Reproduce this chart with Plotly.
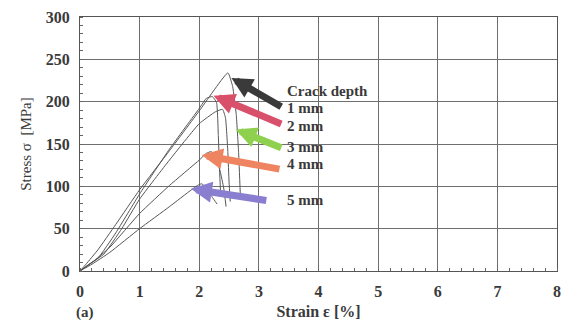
import plotly.graph_objects as go

# Stress-strain curves for different crack depths
c1_x = [0, 0.1, 0.3, 0.6, 1.0, 1.5, 2.0, 2.48, 2.56, 2.62, 2.66, 2.69]
c1_y = [0, 8, 25, 55, 96, 142, 189, 234, 218, 185, 140, 88]
c2_x = [0, 0.15, 0.3, 0.6, 1.0, 1.5, 2.0, 2.12, 2.22, 2.29, 2.32, 2.34, 2.36]
c2_y = [0, 8, 15, 45, 91, 144, 192, 204, 206, 199, 160, 120, 88]
c3_x = [0, 0.2, 0.4, 0.7, 1.0, 1.5, 2.0, 2.27, 2.39, 2.44, 2.48, 2.5, 2.52]
c3_y = [0, 10, 20, 50, 85, 131, 174, 188, 191, 181, 140, 105, 82]
c4_x = [0, 0.2, 0.5, 1.0, 1.5, 2.0, 2.12, 2.2, 2.27, 2.35, 2.41, 2.45]
c4_y = [0, 10, 28, 68, 101, 131, 139, 141, 136, 118, 98, 76]
c5_x = [0, 0.2, 0.5, 1.0, 1.5, 1.87, 1.97, 2.04, 2.12, 2.22, 2.3]
c5_y = [0, 8, 22, 50, 76, 96, 101, 103, 98, 87, 79]

curves = [(c1_x, c1_y), (c2_x, c2_y), (c3_x, c3_y), (c4_x, c4_y), (c5_x, c5_y)]

labels = ["Crack depth", "1 mm", "2 mm", "3 mm", "4 mm", "5 mm"]
label_x = [3.44, 3.44, 3.44, 3.44, 3.44, 3.44]
label_y = [213, 192, 171, 147, 126, 84]

# arrows: head (x, y) and tail (x, y)
arrow_head_x = [2.54, 2.24, 2.61, 2.04, 1.86]
arrow_head_y = [228, 207, 167, 137, 97]
arrow_tail_x = [3.40, 3.40, 3.40, 3.37, 3.15]
arrow_tail_y = [193, 173, 145, 120, 83]
arrow_colors = ["#3a3a3a", "#d9506a", "#8fd14f", "#ef8460", "#8a7ed0"]

x_ticks = [0, 1, 2, 3, 4, 5, 6, 7, 8]
y_ticks = [0, 50, 100, 150, 200, 250, 300]

fig = go.Figure()
for cx, cy in curves:
    fig.add_trace(go.Scatter(x=cx, y=cy, mode="lines",
                             line=dict(color="#555555", width=1, shape="spline", smoothing=0.4),
                             showlegend=False, hoverinfo="skip"))

serif = "Liberation Serif, Times New Roman, serif"
txt = "#3a3a3a"

for hx, hy, tx, ty, col in zip(arrow_head_x, arrow_head_y, arrow_tail_x, arrow_tail_y, arrow_colors):
    fig.add_annotation(x=hx, y=hy, ax=tx, ay=ty, xref="x", yref="y", axref="x", ayref="y",
                       text="", showarrow=True, arrowhead=2, arrowsize=0.6, arrowwidth=7,
                       arrowcolor=col)

for t, lx, ly in zip(labels, label_x, label_y):
    fig.add_annotation(x=lx, y=ly, xref="x", yref="y", text="<b>%s</b>" % t, showarrow=False,
                       xanchor="left", yanchor="middle",
                       font=dict(family=serif, size=15, color=txt))

fig.add_annotation(x=(85 - 80) / 481, y=-(321 - 278) / 261, xref="paper", yref="paper",
                   text="<b>(a)</b>", showarrow=False, xanchor="center", yanchor="middle",
                   font=dict(family=serif, size=15, color=txt))

fig.update_xaxes(range=[0, 8], tickvals=x_ticks, showgrid=True, gridcolor="#6f6f6f", gridwidth=1.2,
                 showline=True, linecolor="#555555", linewidth=1.2, mirror=True,
                 ticks="", zeroline=False, ticklabelstandoff=6,
                 minor=dict(dtick=0.2, ticks="inside", ticklen=3, tickcolor="#666666", showgrid=False),
                 tickfont=dict(family=serif, size=16, color=txt, weight="bold"),
                 title=dict(text="<b>Strain ε [%]</b>", font=dict(family=serif, size=16, color=txt),
                            standoff=6))
fig.update_yaxes(range=[0, 300], tickvals=y_ticks, showgrid=True, gridcolor="#6f6f6f", gridwidth=1.2,
                 showline=True, linecolor="#555555", linewidth=1.2, mirror=True,
                 ticks="", zeroline=False, ticklabelstandoff=6,
                 minor=dict(dtick=10, ticks="inside", ticklen=3, tickcolor="#666666", showgrid=False),
                 tickfont=dict(family=serif, size=16, color=txt, weight="bold"),
                 title=dict(text="Stress σ  [MPa]", font=dict(family=serif, size=15, color=txt),
                            standoff=10))

fig.update_layout(width=566, height=322, margin=dict(l=80, r=5, t=17, b=44),
                  plot_bgcolor="white", paper_bgcolor="white")

fig.write_html("out.html")
